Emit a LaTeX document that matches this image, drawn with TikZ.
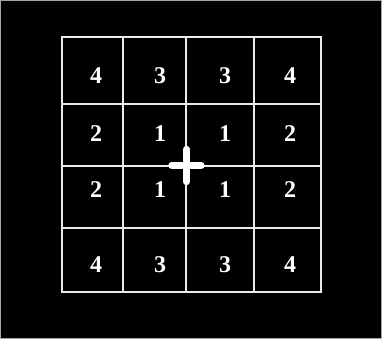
\documentclass[tikz,border=0pt]{standalone}
\usepackage{fontspec}
\setmainfont{Liberation Serif}
\tikzset{
  cellnum/.style={text=white, font=\fontsize{24}{24}\selectfont\bfseries, inner sep=0pt},
  gridline/.style={draw=white!92!black, line width=2pt},
  crossbar/.style={draw=white, line width=7.5pt, line cap=round}
}
\begin{document}
\begin{tikzpicture}[x=1pt, y=-1pt]
\useasboundingbox (0,0) rectangle (382,339);
\fill[black] (0,0) rectangle (382,339);
\draw[gray!70, line width=1.2pt] (0.6,0.6) rectangle (381.4,338.4);
% grid
\draw[gridline] (62,37) rectangle (321,292);
\draw[gridline] (123,37) -- (123,292);
\draw[gridline] (186,37) -- (186,292);
\draw[gridline] (254,37) -- (254,292);
\draw[gridline] (62,104) -- (321,104);
\draw[gridline] (62,166) -- (321,166);
\draw[gridline] (62,228) -- (321,228);
% numbers
\node[cellnum] (a1) at (96,75.5) {4};
\node[cellnum] (a2) at (160,75.5) {3};
\node[cellnum] (a3) at (225,75.5) {3};
\node[cellnum] (a4) at (290,75.5) {4};
\node[cellnum] (b1) at (96,134) {2};
\node[cellnum] (b2) at (160,134) {1};
\node[cellnum] (b3) at (225,134) {1};
\node[cellnum] (b4) at (290,134) {2};
\node[cellnum] (c1) at (96,190) {2};
\node[cellnum] (c2) at (160,190) {1};
\node[cellnum] (c3) at (225,190) {1};
\node[cellnum] (c4) at (290,190) {2};
\node[cellnum] (d1) at (96,265) {4};
\node[cellnum] (d2) at (160,265) {3};
\node[cellnum] (d3) at (225,265) {3};
\node[cellnum] (d4) at (290,265) {4};
% fixation cross
\coordinate (fix) at (186.5,165.5);
\draw[crossbar] ([xshift=-14.5pt]fix) -- ([xshift=14.5pt]fix);
\draw[crossbar] ([yshift=-16pt]fix) -- ([yshift=16pt]fix);
\end{tikzpicture}
\end{document}
